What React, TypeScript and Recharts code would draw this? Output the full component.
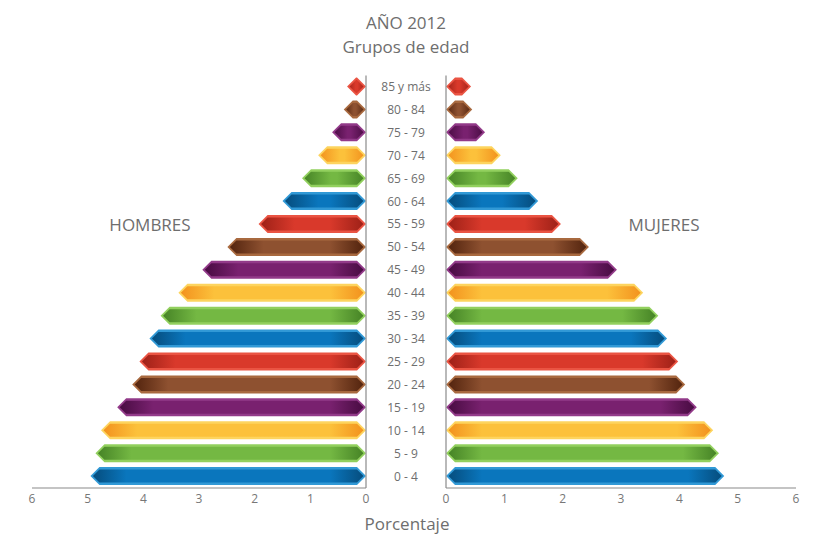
import { BarChart, Bar, XAxis, YAxis, ReferenceLine } from "recharts";

const ages = [
  "85 y más", "80 - 84", "75 - 79", "70 - 74", "65 - 69", "60 - 64",
  "55 - 59", "50 - 54", "45 - 49", "40 - 44", "35 - 39", "30 - 34",
  "25 - 29", "20 - 24", "15 - 19", "10 - 14", "5 - 9", "0 - 4",
];
const hombres = [0.34, 0.4, 0.61, 0.86, 1.15, 1.5, 1.93, 2.49, 2.94, 3.37, 3.69, 3.89, 4.07, 4.2, 4.47, 4.76, 4.86, 4.95];
const mujeres = [0.43, 0.45, 0.67, 0.94, 1.23, 1.58, 1.97, 2.45, 2.93, 3.38, 3.64, 3.79, 3.98, 4.1, 4.3, 4.58, 4.68, 4.77];
const ticks = [0, 1, 2, 3, 4, 5, 6];

// rim / main / dark, cycling from the top: red, brown, purple, yellow, green, blue
const palette = [
  { rim: "#ea5443", main: "#d9392b", dark: "#9a1f16" },
  { rim: "#a8693f", main: "#8e5130", dark: "#4f210c" },
  { rim: "#923a89", main: "#79216f", dark: "#450a3f" },
  { rim: "#fdd45e", main: "#fcc13b", dark: "#f28f1c" },
  { rim: "#92d05e", main: "#74b843", dark: "#438024" },
  { rim: "#3199d6", main: "#0a76bd", dark: "#054a79" },
];

const data = ages.map((age, i) => ({ age, h: hombres[i], m: mujeres[i] }));

const font = "'Open Sans', sans-serif";
const grey = "#6e6e6e";
const axisGrey = "#8a8a8a";

function hexPoints(x: number, y: number, w: number, h: number) {
  const p = Math.min(h / 2, w / 2);
  return [
    [x, y + h / 2], [x + p, y], [x + w - p, y],
    [x + w, y + h / 2], [x + w - p, y + h], [x + p, y + h],
  ].map((q) => q.join(",")).join(" ");
}

function makeShape(side: string) {
  return (props: any) => {
    const { x, y, width, height, index } = props;
    const x0 = Math.min(x, x + width);
    const w = Math.abs(width);
    if (!w) return <g />;
    const c = palette[index % 6];
    const id = `g-${side}-${index}`;
    const inset = 2.5;
    const f = Math.min(0.45, 36 / w);
    return (
      <g>
        <defs>
          <linearGradient id={id} gradientUnits="userSpaceOnUse" x1={x0} x2={x0 + w} y1={0} y2={0}>
            <stop offset={0} stopColor={c.dark} />
            <stop offset={f} stopColor={c.main} />
            <stop offset={1 - f} stopColor={c.main} />
            <stop offset={1} stopColor={c.dark} />
          </linearGradient>
        </defs>
        <polygon points={hexPoints(x0, y, w, height)} fill={c.rim} />
        <polygon
          points={hexPoints(x0 + inset, y + inset, Math.max(w - inset * 2, 1), height - inset * 2)}
          fill={`url(#${id})`}
        />
      </g>
    );
  };
}

const AgeTick = (props: any) => {
  const { y, payload } = props;
  return (
    <text x={406} y={y} dy={4} textAnchor="middle" fill={grey} fontSize={12} fontFamily={font}>
      {payload.value}
    </text>
  );
};

const label = (text: string, left: number, top: number, size: number) => (
  <div
    style={{
      position: "absolute", left: left - 100, top: top - size * 0.7, width: 200,
      textAlign: "center", fontFamily: font, fontSize: size, color: grey, lineHeight: `${size * 1.4}px`,
    }}
  >
    {text}
  </div>
);

export default function App() {
  const tickStyle = { fill: "#777", fontSize: 12, fontFamily: font };
  return (
    <div style={{ position: "absolute", left: 0, top: 0, width: 820, height: 542, background: "#fff" }}>
      <div style={{ position: "absolute", left: 0, top: 0 }}>
        <BarChart
          width={380}
          height={542}
          data={data}
          layout="vertical"
          barCategoryGap={0}
          margin={{ top: 75.5, right: 14, left: 32, bottom: 24 }}
        >
          <XAxis
            type="number"
            domain={[0, 6]}
            ticks={ticks}
            reversed
            height={30}
            tickLine={false}
            tickSize={4}
            axisLine={{ stroke: axisGrey, strokeWidth: 1.2 }}
            tick={tickStyle}
            interval={0}
          />
          <YAxis type="category" dataKey="age" hide />
          <ReferenceLine x={0} stroke={axisGrey} strokeWidth={1.2} />
          <Bar dataKey="h" barSize={18} isAnimationActive={false} shape={makeShape("h")} />
        </BarChart>
      </div>
      <div style={{ position: "absolute", left: 0, top: 0 }}>
        <BarChart
          width={820}
          height={542}
          data={data}
          layout="vertical"
          barCategoryGap={0}
          margin={{ top: 75.5, right: 24, left: 366, bottom: 24 }}
        >
          <XAxis
            type="number"
            domain={[0, 6]}
            ticks={ticks}
            height={30}
            tickLine={false}
            tickSize={4}
            axisLine={{ stroke: axisGrey, strokeWidth: 1.2 }}
            tick={tickStyle}
            interval={0}
          />
          <YAxis
            type="category"
            dataKey="age"
            orientation="left"
            width={80}
            tickLine={false}
            axisLine={{ stroke: axisGrey, strokeWidth: 1.2 }}
            tick={<AgeTick />}
            interval={0}
          />
          <Bar dataKey="m" barSize={18} isAnimationActive={false} shape={makeShape("m")} />
        </BarChart>
      </div>
      {label("AÑO 2012", 406, 23, 17)}
      {label("Grupos de edad", 406, 47, 17)}
      {label("HOMBRES", 150, 225, 17)}
      {label("MUJERES", 664, 225, 17)}
      {label("Porcentaje", 407, 524, 17)}
    </div>
  );
}
